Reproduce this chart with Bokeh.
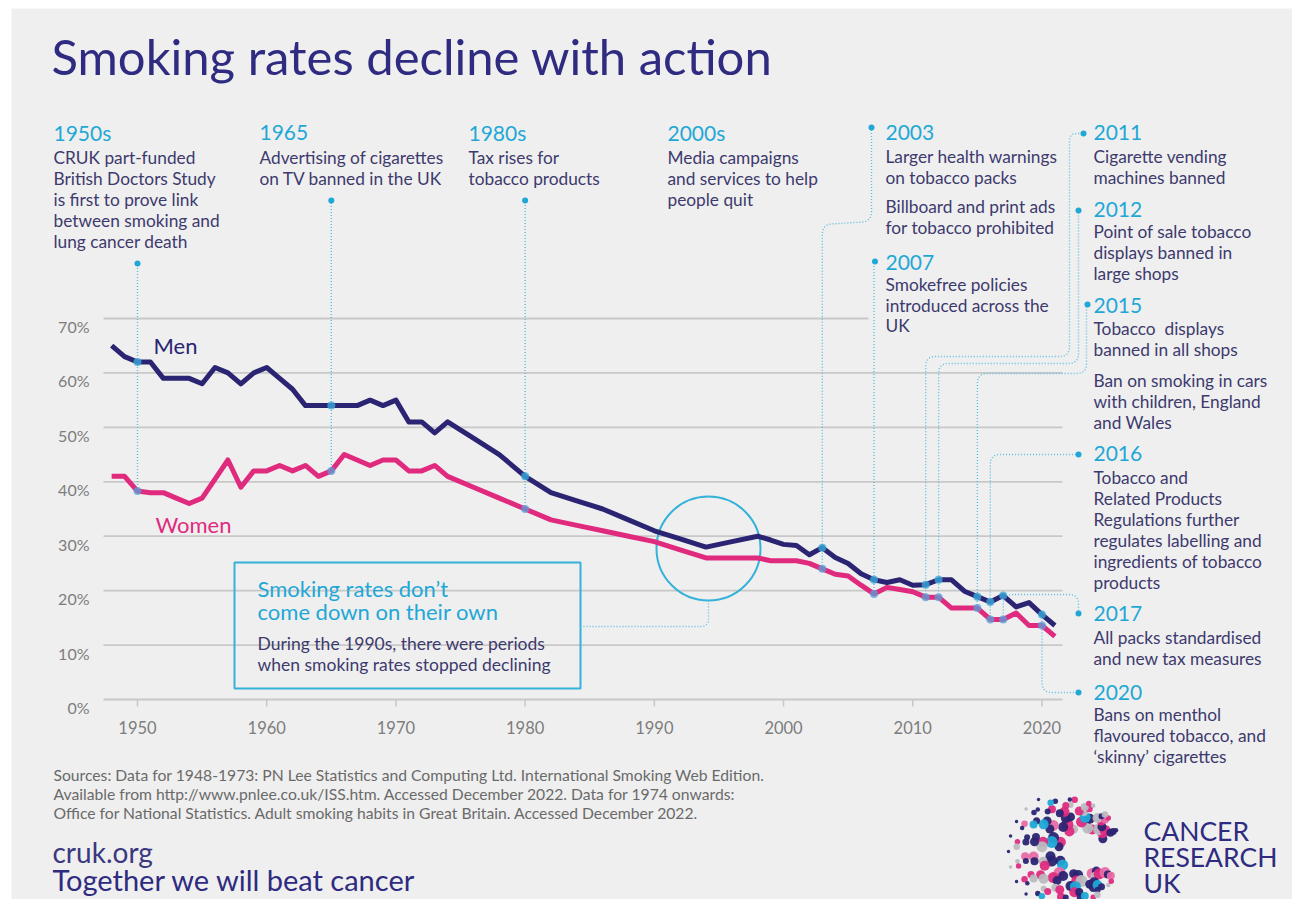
import math
from bokeh.plotting import figure
from bokeh.models import ColumnDataSource, Range1d
from bokeh.core.properties import value
from bokeh.embed import file_html
from bokeh.resources import INLINE

# ---------------- DATA ----------------
years = [1948, 1949, 1950, 1951, 1952, 1953, 1954, 1955, 1956, 1957, 1958, 1959,
         1960, 1961, 1962, 1963, 1964, 1965, 1966, 1967, 1968, 1969, 1970, 1971,
         1972, 1973, 1974, 1976, 1978, 1980, 1982, 1984, 1986, 1988, 1990, 1992,
         1994, 1996, 1998, 1999, 2000, 2001, 2002, 2003, 2004, 2005, 2006, 2007,
         2008, 2009, 2010, 2011, 2012, 2013, 2014, 2015, 2016, 2017, 2018, 2019,
         2020, 2021]
men = [65, 63, 62, 62, 59, 59, 59, 58, 61, 60, 58, 60,
       61, 59, 57, 54, 54, 54, 54, 54, 55, 54, 55, 51,
       51, 49, 51, 48, 45, 41, 38, 36.5, 35, 33, 31, 29.5,
       28, 29, 30, 29.3, 28.5, 28.3, 26.6, 27.9, 26.1, 25, 23.1, 22,
       21.5, 22, 21, 21.1, 22, 22, 19.9, 18.9, 17.9, 19.1, 17, 17.8,
       15.6, 13.6]
women = [41, 41, 38.3, 38, 38, 37, 36, 37, 40.5, 44, 39, 42,
         42, 43, 42, 43, 41, 42, 45, 44, 43, 44, 44, 42,
         42, 43, 41, 39, 37, 35, 33, 32, 31, 30, 29, 27.5,
         26, 26, 26, 25.5, 25.5, 25.5, 25, 24, 23, 22.7, 21, 19.4,
         20.6, 20.2, 19.8, 18.8, 18.8, 16.8, 16.8, 16.8, 14.7, 14.7, 15.9, 13.6,
         13.6, 11.6]

event_years = [1950, 1965, 1980, 2003, 2007, 2011, 2012, 2015, 2016, 2017, 2020]

y_ticks = [0, 10, 20, 30, 40, 50, 60, 70]
y_tick_labels = ["0%", "10%", "20%", "30%", "40%", "50%", "60%", "70%"]
x_ticks = [1950, 1960, 1970, 1980, 1990, 2000, 2010, 2020]
x_tick_labels = ["1950", "1960", "1970", "1980", "1990", "2000", "2010", "2020"]

event_heads = ["1950s", "1965", "1980s", "2000s", "2003", "2007", "2011", "2012",
               "2015", "2016", "2017", "2020"]
event_bodies = [
    ["CRUK part-funded", "British Doctors Study", "is first to prove link",
     "between smoking and", "lung cancer death"],
    ["Advertising of cigarettes", "on TV banned in the UK"],
    ["Tax rises for", "tobacco products"],
    ["Media campaigns", "and services to help", "people quit"],
    ["Larger health warnings", "on tobacco packs", "Billboard and print ads",
     "for tobacco prohibited"],
    ["Smokefree policies", "introduced across the", "UK"],
    ["Cigarette vending", "machines banned"],
    ["Point of sale tobacco", "displays banned in", "large shops"],
    ["Tobacco\u00a0 displays", "banned in all shops", "Ban on smoking in cars",
     "with children, England", "and Wales"],
    ["Tobacco and", "Related Products", "Regulations further",
     "regulates labelling and", "ingredients of tobacco", "products"],
    ["All packs standardised", "and new tax measures"],
    ["Bans on menthol", "flavoured tobacco, and", "\u2018skinny\u2019 cigarettes"],
]

title_text = "Smoking rates decline with action"
box_head = ["Smoking rates don\u2019t", "come down on their own"]
box_body = ["During the 1990s, there were periods", "when smoking rates stopped declining"]
sources = ["Sources: Data for 1948-1973: PN Lee Statistics and Computing Ltd. International Smoking Web Edition.",
           "Available from http://www.pnlee.co.uk/ISS.htm. Accessed December 2022. Data for 1974 onwards:",
           "Office for National Statistics. Adult smoking habits in Great Britain. Accessed December 2022."]
footer = ["cruk.org", "Together we will beat cancer"]
logo_words = ["CANCER", "RESEARCH", "UK"]

# ---------------- STYLE / LAYOUT ----------------
FONT = "Lato"
BG = "#efefef"
TITLE_C = "#2e2b80"
BODY_C = "#3d3a6e"
TEAL = "#1fa8d6"
DOT_LINE = "#58bde0"
NAVY = "#2a2472"
PINK = "#df2a7e"
GRID_C = "#c8c8c8"
TICK_C = "#7d7d7d"
SRC_C = "#6a6a6a"

W, H = 1292, 899
FL, FT = 11, 8          # frame offset inside the canvas (white strip like the original)
X1950, PXY = 137.0, 12.921
Y0, PXP = 699.0, 5.443


def yr(px):
    return 1950 + (px - X1950) / PXY


def pc(py):
    return (Y0 - py) / PXP


def PX(year):
    return X1950 + (year - 1950) * PXY


def PY(v):
    return Y0 - v * PXP


p = figure(width=W, height=H, x_range=Range1d(yr(FL), yr(W)),
           y_range=Range1d(pc(H), pc(FT)),
           min_border_left=FL, min_border_top=FT, min_border_right=0, min_border_bottom=0,
           toolbar_location=None, output_backend="svg",
           x_axis_type=None, y_axis_type=None,
           background_fill_color=BG, border_fill_color="white",
           outline_line_color=None)


def texts(items, size, color, align="left", style="normal", font=FONT):
    src = ColumnDataSource(dict(x=[yr(a) for a, b, c in items],
                                y=[pc(b) for a, b, c in items],
                                t=[c for a, b, c in items]))
    p.text(x="x", y="y", text="t", source=src, text_font=value(font),
           text_font_size=size, text_color=color, text_align=align,
           text_baseline="middle", text_font_style=style)


# gridlines
gx1 = [868 if t == 70 else 1062 for t in y_ticks]
p.segment(x0=[yr(103)] * len(y_ticks), x1=[yr(v) for v in gx1],
          y0=y_ticks, y1=y_ticks, line_color=GRID_C, line_width=1.8)
# x tick marks
p.segment(x0=x_ticks, x1=x_ticks, y0=[0] * len(x_ticks),
          y1=[pc(706)] * len(x_ticks), line_color=GRID_C, line_width=1.5)

# tick labels
texts([(89, PY(v) + 8, s) for v, s in zip(y_ticks, y_tick_labels)], "16px", TICK_C, align="right")
texts([(PX(v), 727, s) for v, s in zip(x_ticks, x_tick_labels)], "16.5px", TICK_C, align="center")

# ---------------- connectors ----------------
mdict = dict(zip(years, men))
wdict = dict(zip(years, women))


def rounded(points, r=9, n=8):
    out = [points[0]]
    for i in range(1, len(points) - 1):
        (x0, y0), (x1, y1), (x2, y2) = points[i - 1], points[i], points[i + 1]
        d1 = math.hypot(x1 - x0, y1 - y0)
        d2 = math.hypot(x2 - x1, y2 - y1)
        rr = min(r, d1 / 2, d2 / 2)
        ax, ay = x1 + (x0 - x1) * rr / d1, y1 + (y0 - y1) * rr / d1
        bx, by = x1 + (x2 - x1) * rr / d2, y1 + (y2 - y1) * rr / d2
        for j in range(n + 1):
            t = j / n
            out.append(((1 - t) ** 2 * ax + 2 * (1 - t) * t * x1 + t * t * bx,
                        (1 - t) ** 2 * ay + 2 * (1 - t) * t * y1 + t * t * by))
    out.append(points[-1])
    return out


paths = []
end_dots = []
for ey in event_years:
    ex = PX(ey)
    wy = PY(wdict[ey])
    my = PY(mdict[ey])
    if ey == 1950:
        pts = [(ex, wy), (ex, 263)]
        end_dots.append((ex, 263))
    elif ey in (1965, 1980):
        pts = [(ex, wy), (ex, 200)]
        end_dots.append((ex, 200))
    elif ey == 2003:
        pts = [(ex, wy), (ex, 224), (871, 221), (871, 127)]
        end_dots.append((871, 127))
    elif ey == 2007:
        pts = [(ex, wy), (ex, 262)]
        end_dots.append((ex + 1, 261))
    elif ey == 2011:
        pts = [(ex, wy), (ex, 356), (1069, 356), (1069, 133), (1083, 133)]
        end_dots.append((1083, 133))
    elif ey == 2012:
        pts = [(ex, wy), (ex, 363), (1078, 363), (1078, 210)]
        end_dots.append((1078, 210))
    elif ey == 2015:
        pts = [(ex, wy), (ex, 373), (1086, 373), (1086, 304)]
        end_dots.append((1087, 304))
    elif ey == 2016:
        pts = [(ex, wy), (ex, 454), (1078, 454)]
        end_dots.append((1078, 454))
    elif ey == 2017:
        pts = [(ex, wy), (ex, my - 1), (1078, my - 1), (1078, 613)]
        end_dots.append((1078, 613))
    elif ey == 2020:
        pts = [(ex, my), (ex, 692), (1078, 692)]
        end_dots.append((1078, 692))
    paths.append(rounded(pts, r=10))

# 1990s circle connector
paths.append(rounded([(708, 600), (708, 626), (583, 626)], r=8))

p.multi_line(xs=[[yr(a) for a, b in pth] for pth in paths],
             ys=[[pc(b) for a, b in pth] for pth in paths],
             line_color=DOT_LINE, line_width=1.4, line_dash="1 2")
p.scatter(x=[yr(a) for a, b in end_dots], y=[pc(b) for a, b in end_dots],
          size=6, fill_color=TEAL, line_color=None)

# box
p.quad(left=[yr(234)], right=[yr(580)], top=[pc(562)], bottom=[pc(688)],
       fill_color=None, line_color="#35b2da", line_width=2)
# circle around the 1990s stall
p.scatter(x=[yr(708)], y=[pc(548)], size=104, marker="circle",
          fill_color=None, line_color="#35b2da", line_width=2)

# ---------------- series ----------------
p.line(years, men, line_color=NAVY, line_width=5, line_join="round")
p.line(years, women, line_color=PINK, line_width=5, line_join="round")

p.scatter(x=event_years, y=[mdict[e] for e in event_years], size=8,
          fill_color="#3aa6d8", fill_alpha=0.8, line_color=None)
p.scatter(x=event_years, y=[wdict[e] for e in event_years], size=8,
          fill_color="#5a9fd8", fill_alpha=0.75, line_color=None)

# series labels
texts([(153, 345, "Men")], "22px", NAVY)
texts([(155, 524, "Women")], "22px", PINK)

# ---------------- annotation text ----------------
block_pos = [
    (53, 132, [157, 178, 199, 220, 241]),
    (259, 132, [157, 178]),
    (468, 132, [157, 178]),
    (667, 132, [157, 178, 199]),
    (885, 132, [156, 177, 206, 227]),
    (885, 262, [284, 305, 325]),
    (1093, 132, [156, 177]),
    (1093, 209, [231, 252, 273]),
    (1093, 305, [328, 349, 380, 401, 422]),
    (1093, 453, [477, 498, 519, 540, 561, 582]),
    (1093, 613, [637, 658]),
    (1093, 692, [714, 735, 756]),
]
head_items, body_items = [], []
for (bx, hy, lys), head, body in zip(block_pos, event_heads, event_bodies):
    head_items.append((bx, hy, head))
    for ly, line in zip(lys, body):
        body_items.append((bx, ly, line))
texts(head_items, "21px", TEAL)
texts(body_items, "17.3px", BODY_C)

# box text
texts([(257, 588, box_head[0]), (257, 611, box_head[1])], "22px", TEAL)
texts([(257, 643, box_body[0]), (257, 664, box_body[1])], "17.5px", BODY_C)

# title
texts([(51, 55, title_text)], "49px", TITLE_C)

# sources & footer
texts([(53, 774, sources[0]), (53, 793, sources[1]), (53, 812, sources[2])], "15.7px", SRC_C)
texts([(52, 851, footer[0])], "28px", "#3b3880")
texts([(52, 879, footer[1])], "29px", TITLE_C)

# ---------------- logo (decorative dotted "C") ----------------
logo_cols = [NAVY, PINK, NAVY, "#b9b9bf", TEAL, PINK, NAVY, "#e86aa6", PINK, NAVY, "#b9b9bf", NAVY]
lx, ly, ls, lc = [], [], [], []
k = 0
for s, sz in [(0.0, 10), (0.2, 11), (0.4, 10), (0.6, 9), (0.8, 7), (1.0, 5.5)]:
    r = 24 + 28 * s
    ccx = 1082 - 14 * s
    start = 32 - 8 * s
    span = 360 - 2 * start
    n = int(r * math.radians(span) / 9.5)
    for j in range(n):
        a = math.radians(start + span * (j + 0.5 * (k % 2)) / n)
        lx.append(ccx + r * math.cos(a))
        ly.append(851 - r * math.sin(a))
        ls.append(sz + (k % 3) - 1)
        lc.append(logo_cols[(k * 5) % len(logo_cols)])
        k += 1
# sparse outer specks on the left
for j in range(9):
    a = math.radians(120 + 120 * j / 8)
    lx.append(1068 + 60 * math.cos(a))
    ly.append(851 - 60 * math.sin(a))
    ls.append(3.5)
    lc.append(logo_cols[(j * 3) % len(logo_cols)])
p.scatter(x=[yr(v) for v in lx], y=[pc(v) for v in ly], size=ls,
          fill_color=lc, line_color=None, fill_alpha=0.95)
texts([(1143, 830, logo_words[0]), (1143, 856, logo_words[1]), (1143, 882, logo_words[2])],
      "26.5px", TITLE_C)

open("out.html", "w").write(file_html(p, INLINE))
